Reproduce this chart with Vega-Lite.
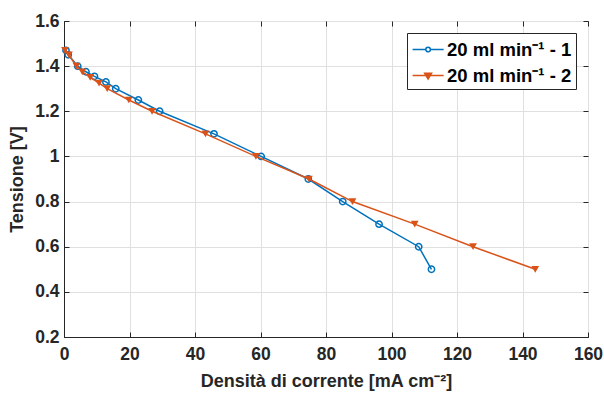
{
  "$schema": "https://vega.github.io/schema/vega-lite/v6.json",
  "width": 524,
  "height": 316,
  "autosize": "none",
  "padding": {"left": 64, "top": 21, "right": 16, "bottom": 57},
  "background": "white",
  "config": {
    "font": "Liberation Sans",
    "view": {"stroke": "#262626", "strokeWidth": 1},
    "axis": {
      "labelFont": "Liberation Sans",
      "labelFontWeight": "bold",
      "labelFontSize": 17.5,
      "labelColor": "#262626",
      "labelFlush": false,
      "titleFont": "Liberation Sans",
      "titleFontWeight": "bold",
      "titleFontSize": 18,
      "titleColor": "#262626",
      "domainColor": "#262626",
      "tickColor": "#262626",
      "gridColor": "#e0e0e0",
      "gridWidth": 1
    }
  },
  "datasets": {
    "curves": [
      {"j": 0.6, "v": 1.47, "s": "20 ml min⁻¹ - 1"},
      {"j": 1.3, "v": 1.45, "s": "20 ml min⁻¹ - 1"},
      {"j": 4.2, "v": 1.40, "s": "20 ml min⁻¹ - 1"},
      {"j": 6.7, "v": 1.375, "s": "20 ml min⁻¹ - 1"},
      {"j": 9.3, "v": 1.355, "s": "20 ml min⁻¹ - 1"},
      {"j": 12.8, "v": 1.33, "s": "20 ml min⁻¹ - 1"},
      {"j": 15.8, "v": 1.30, "s": "20 ml min⁻¹ - 1"},
      {"j": 22.7, "v": 1.25, "s": "20 ml min⁻¹ - 1"},
      {"j": 29.2, "v": 1.20, "s": "20 ml min⁻¹ - 1"},
      {"j": 45.8, "v": 1.10, "s": "20 ml min⁻¹ - 1"},
      {"j": 60.2, "v": 1.00, "s": "20 ml min⁻¹ - 1"},
      {"j": 74.6, "v": 0.90, "s": "20 ml min⁻¹ - 1"},
      {"j": 85.1, "v": 0.80, "s": "20 ml min⁻¹ - 1"},
      {"j": 96.2, "v": 0.70, "s": "20 ml min⁻¹ - 1"},
      {"j": 108.3, "v": 0.60, "s": "20 ml min⁻¹ - 1"},
      {"j": 112.2, "v": 0.50, "s": "20 ml min⁻¹ - 1"},
      {"j": 0.3, "v": 1.47, "s": "20 ml min⁻¹ - 2"},
      {"j": 1.5, "v": 1.45, "s": "20 ml min⁻¹ - 2"},
      {"j": 3.8, "v": 1.40, "s": "20 ml min⁻¹ - 2"},
      {"j": 5.6, "v": 1.375, "s": "20 ml min⁻¹ - 2"},
      {"j": 8.0, "v": 1.35, "s": "20 ml min⁻¹ - 2"},
      {"j": 10.7, "v": 1.325, "s": "20 ml min⁻¹ - 2"},
      {"j": 13.2, "v": 1.30, "s": "20 ml min⁻¹ - 2"},
      {"j": 19.8, "v": 1.25, "s": "20 ml min⁻¹ - 2"},
      {"j": 26.9, "v": 1.20, "s": "20 ml min⁻¹ - 2"},
      {"j": 43.2, "v": 1.10, "s": "20 ml min⁻¹ - 2"},
      {"j": 58.6, "v": 1.00, "s": "20 ml min⁻¹ - 2"},
      {"j": 74.8, "v": 0.90, "s": "20 ml min⁻¹ - 2"},
      {"j": 88.1, "v": 0.80, "s": "20 ml min⁻¹ - 2"},
      {"j": 107.1, "v": 0.70, "s": "20 ml min⁻¹ - 2"},
      {"j": 124.9, "v": 0.60, "s": "20 ml min⁻¹ - 2"},
      {"j": 143.9, "v": 0.50, "s": "20 ml min⁻¹ - 2"}
    ]
  },
  "data": {"name": "curves"},
  "encoding": {
    "x": {
      "field": "j",
      "type": "quantitative",
      "scale": {"domain": [0, 160], "nice": false, "zero": false},
      "axis": null
    },
    "y": {
      "field": "v",
      "type": "quantitative",
      "scale": {"domain": [0.2, 1.6], "nice": false, "zero": false},
      "axis": null
    }
  },
  "layer": [
    {
      "transform": [{"filter": "datum.s === '20 ml min⁻¹ - 1'"}],
      "mark": {"type": "line", "strokeWidth": 1.5, "color": "#0072BD"},
      "encoding": {
        "x": {
          "field": "j",
          "type": "quantitative",
          "axis": {
            "title": "Densità di corrente [mA cm⁻²]",
            "values": [0, 20, 40, 60, 80, 100, 120, 140, 160],
            "grid": true,
            "tickSize": -5,
            "labelPadding": 13,
            "titlePadding": 10
          }
        },
        "y": {
          "field": "v",
          "type": "quantitative",
          "axis": {
            "title": "Tensione [V]",
            "values": [0.2, 0.4, 0.6, 0.8, 1, 1.2, 1.4, 1.6],
            "format": "~g",
            "grid": true,
            "tickSize": -5,
            "labelPadding": 10,
            "titlePadding": 8
          }
        }
      }
    },
    {
      "transform": [{"filter": "datum.s === '20 ml min⁻¹ - 1'"}],
      "mark": {"type": "point", "shape": "circle", "filled": false, "strokeWidth": 1.5, "size": 40, "opacity": 1, "color": "#0072BD"},
      "encoding": {
        "x": {
          "field": "j",
          "type": "quantitative",
          "axis": {"orient": "top", "labels": false, "title": null, "grid": false, "domain": false, "tickSize": -5, "values": [0, 20, 40, 60, 80, 100, 120, 140, 160]}
        },
        "y": {
          "field": "v",
          "type": "quantitative",
          "axis": {"orient": "right", "labels": false, "title": null, "grid": false, "domain": false, "tickSize": -5, "values": [0.2, 0.4, 0.6, 0.8, 1, 1.2, 1.4, 1.6]}
        }
      }
    },
    {
      "transform": [{"filter": "datum.s === '20 ml min⁻¹ - 2'"}],
      "mark": {"type": "line", "strokeWidth": 1.5, "color": "#D95319"}
    },
    {
      "transform": [{"filter": "datum.s === '20 ml min⁻¹ - 2'"}],
      "mark": {"type": "point", "shape": "triangle-down", "filled": true, "strokeWidth": 1, "size": 60, "opacity": 1, "color": "#D95319"}
    },
    {
      "mark": {"type": "point", "filled": true, "opacity": 1, "size": 0},
      "encoding": {
        "shape": {
          "field": "s",
          "type": "nominal",
          "scale": {
            "domain": ["20 ml min⁻¹ - 1", "20 ml min⁻¹ - 2"],
            "range": [
              "M-0.95,0H0.2A0.2,0.2 0 1,1 0.6,0H1.75M0.6,0A0.2,0.2 0 1,1 0.2,0",
              "M-0.95,0H1.75M0.1,-0.2L0.7,-0.2L0.4,0.3Z"
            ]
          },
          "legend": {
            "title": null,
            "orient": "none",
            "legendX": 343,
            "legendY": 12,
            "strokeColor": "#262626",
            "fillColor": "white",
            "padding": 4,
            "labelFont": "Liberation Sans",
            "labelFontWeight": "bold",
            "labelFontSize": 18.5,
            "labelColor": "black",
            "labelOffset": 11,
            "symbolSize": 529,
            "symbolStrokeWidth": 1.5,
            "rowPadding": 4
          }
        },
        "fill": {
          "field": "s",
          "type": "nominal",
          "scale": {"domain": ["20 ml min⁻¹ - 1", "20 ml min⁻¹ - 2"], "range": ["transparent", "#D95319"]},
          "legend": {"title": null, "orient": "none", "legendX": 343, "legendY": 12}
        },
        "stroke": {
          "field": "s",
          "type": "nominal",
          "scale": {"domain": ["20 ml min⁻¹ - 1", "20 ml min⁻¹ - 2"], "range": ["#0072BD", "#D95319"]},
          "legend": {"title": null, "orient": "none", "legendX": 343, "legendY": 12}
        }
      }
    }
  ],
  "resolve": {"axis": {"x": "independent", "y": "independent"}}
}
